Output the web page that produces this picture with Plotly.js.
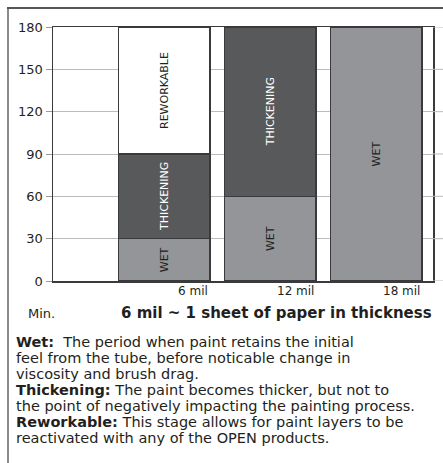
<!DOCTYPE html>
<html>
<head>
<meta charset="utf-8">
<script src="https://cdn.plot.ly/plotly-3.0.1.min.js"></script>
<style>html,body{margin:0;padding:0;background:#fff;}#chart{width:443px;height:463px;}</style>
</head>
<body>
<div id="chart"></div>
<script>
// ---- data ----
const categories = ["6 mil", "12 mil", "18 mil"];
const wet = [30, 60, 180];
const thickening = [60, 120, 0];
const reworkable = [90, 0, 0];
const yTicks = [0, 30, 60, 90, 120, 150, 180];
const unitLabel = "Min.";
const axisTitle = "6 mil ~ 1 sheet of paper in thickness";
const notes = [
  "<b>Wet:</b>  The period when paint retains the initial",
  "feel from the tube, before noticable change in",
  "viscosity and brush drag.",
  "<b>Thickening:</b> The paint becomes thicker, but not to",
  "the point of negatively impacting the painting process.",
  "<b>Reworkable:</b> This stage allows for paint layers to be",
  "reactivated with any of the OPEN products."
];

// ---- layout helpers (pixel -> paper) ----
const W = 443, H = 463;
const L = 53, R = 10, T = 27, B = 182;
const pw = W - L - R, ph = H - T - B;
const px = x => (x - L) / pw;
const py = y => (H - B - y) / ph;

const FONT = "'DejaVu Sans', Verdana, sans-serif";
const xs = categories.map((_, i) => i + 1);
const BW = 0.86;

function barTrace(vals, name, fill, txtColor) {
  return {
    type: "bar", x: xs, y: vals, name: name, width: BW,
    marker: {color: fill, line: {color: "#3a3a3c", width: 1.5}},
    text: vals.map(v => v > 0 ? name : ""),
    textposition: "inside", insidetextanchor: "middle", textangle: -90,
    constraintext: "none",
    textfont: {family: FONT, size: 11, color: txtColor},
    hoverinfo: "skip"
  };
}

const data = [
  barTrace(wet, "WET", "#939598", "#231f20"),
  barTrace(thickening, "THICKENING", "#58595b", "#ffffff"),
  barTrace(reworkable, "REWORKABLE", "#ffffff", "#231f20")
];

const annotations = [];
categories.forEach((c, i) => {
  annotations.push({
    x: xs[i] + BW / 2, y: 0, xref: "x", yref: "y", xanchor: "right", yanchor: "top",
    yshift: -1, text: c, showarrow: false,
    font: {family: FONT, size: 12, color: "#231f20"}
  });
});
annotations.push({
  x: px(26), y: py(313), xref: "paper", yref: "paper", xanchor: "left", yanchor: "middle",
  text: unitLabel, showarrow: false, font: {family: FONT, size: 13, color: "#231f20"}
});
annotations.push({
  x: px(434), y: py(313), xref: "paper", yref: "paper", xanchor: "right", yanchor: "middle",
  text: "<b>" + axisTitle + "</b>", showarrow: false, font: {family: FONT, size: 15, color: "#231f20"}
});
const lineY = [341.5, 357.5, 373.5, 389.5, 405.5, 421.5, 437.5];
notes.forEach((t, i) => {
  annotations.push({
    x: px(14), y: py(lineY[i]), xref: "paper", yref: "paper", xanchor: "left", yanchor: "middle",
    text: t, showarrow: false, font: {family: FONT, size: 14.5, color: "#231f20"}
  });
});

const shapes = [
  // outer frame
  {type: "line", xref: "paper", yref: "paper", x0: px(8), x1: px(8), y0: py(7), y1: py(463), line: {color: "#8a8a8a", width: 2}},
  {type: "line", xref: "paper", yref: "paper", x0: px(7), x1: px(443), y0: py(8), y1: py(8), line: {color: "#555555", width: 2}}
];
// gridline stubs past the right edge
yTicks.forEach(v => {
  shapes.push({type: "line", xref: "paper", yref: "y", x0: 1, x1: px(443), y0: v, y1: v,
    line: {color: "#bbbbbb", width: 1}});
});

const layout = {
  width: W, height: H,
  margin: {l: L, r: R, t: T, b: B},
  paper_bgcolor: "#ffffff", plot_bgcolor: "#ffffff",
  barmode: "stack", showlegend: false,
  font: {family: FONT, color: "#231f20"},
  xaxis: {
    range: [-0.05, 3.535], showticklabels: false, ticks: "", showgrid: false,
    zeroline: false, showline: true, mirror: true, linecolor: "#3a3a3c", linewidth: 1.5
  },
  yaxis: {
    range: [0, 180], tickvals: yTicks, ticktext: yTicks.map(String),
    ticks: "outside", ticklen: 6, tickcolor: "#999999", tickwidth: 1,
    showgrid: true, gridcolor: "#bbbbbb", gridwidth: 1, zeroline: false,
    showline: true, mirror: true, linecolor: "#3a3a3c", linewidth: 1.5,
    tickfont: {family: FONT, size: 13, color: "#231f20"}
  },
  annotations: annotations,
  shapes: shapes
};

Plotly.newPlot("chart", data, layout, {displayModeBar: false, staticPlot: true});
</script>
</body>
</html>
